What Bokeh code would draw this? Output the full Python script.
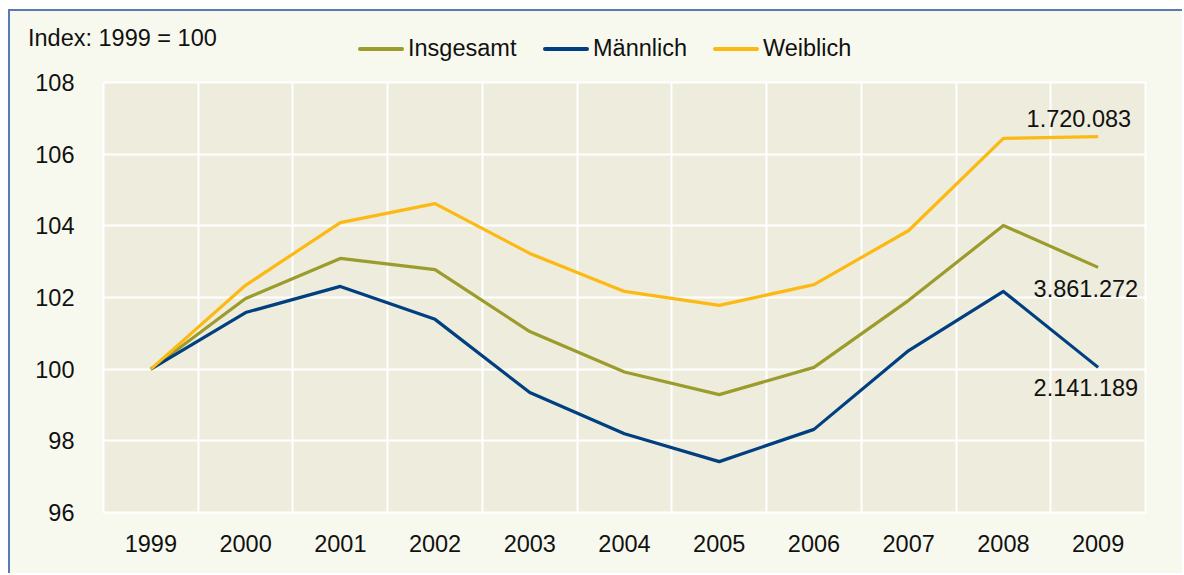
from bokeh.plotting import figure
from bokeh.layouts import column
from bokeh.models import (ColumnDataSource, Label, FixedTicker, Range1d, Div)
from bokeh.embed import file_html
from bokeh.resources import INLINE

years = [1999, 2000, 2001, 2002, 2003, 2004, 2005, 2006, 2007, 2008, 2009]
insgesamt = [100.0, 101.97, 103.09, 102.78, 101.05, 99.92, 99.29, 100.05, 101.92, 104.01, 102.84]
maennlich = [100.0, 101.58, 102.31, 101.39, 99.35, 98.20, 97.42, 98.32, 100.52, 102.17, 100.05]
weiblich = [100.0, 102.34, 104.09, 104.62, 103.23, 102.17, 101.78, 102.36, 103.87, 106.44, 106.49]
series_names = ["Insgesamt", "Männlich", "Weiblich"]
end_labels = ["3.861.272", "2.141.189", "1.720.083"]
y_ticks = [96, 98, 100, 102, 104, 106, 108]
subtitle = "Index: 1999 = 100"

FONT = "Liberation Sans"
FS = "23.5px"
colors = ["#9C9C2C", "#003F80", "#FDB913"]
CREAM = "#F8F9EE"

# ---- header (subtitle + legend) ----
legend_glyph_left = [343, 528, 698]
legend_text_left = [393, 578, 748]
parts = [f'<div style="position:relative;width:1162px;height:49px;background:{CREAM};'
         f'font-family:\'{FONT}\';font-size:{FS};color:#111111;line-height:27px;">',
         f'<span style="position:absolute;left:13px;top:9px;white-space:nowrap;">{subtitle}</span>']
for name, col, gl, tl in zip(series_names, colors, legend_glyph_left, legend_text_left):
    parts.append(f'<span style="position:absolute;left:{gl}px;top:31px;width:46px;height:4px;'
                 f'border-radius:2px;background:{col};"></span>')
    parts.append(f'<span style="position:absolute;left:{tl}px;top:19px;white-space:nowrap;">{name}</span>')
parts.append('</div>')
header = Div(text="".join(parts), width=1162, height=49, styles={"background-color": CREAM})

# ---- chart ----
src = ColumnDataSource(dict(x=years, ins=insgesamt, m=maennlich, w=weiblich))

p = figure(width=1172, height=503, output_backend="svg", toolbar_location=None,
           x_range=Range1d(1998.5, 2009.5), y_range=Range1d(96, 108),
           min_border_left=93, min_border_right=37, min_border_top=12, min_border_bottom=61,
           frame_width=1042, frame_height=430)
p.background_fill_color = "#EEECDC"
p.border_fill_color = CREAM
p.outline_line_color = "white"
p.outline_line_width = 2

p.xgrid.ticker = FixedTicker(ticks=[y - 0.5 for y in years] + [years[-1] + 0.5])
p.xgrid.grid_line_color = "white"
p.xgrid.grid_line_width = 2
p.ygrid.grid_line_color = "white"
p.ygrid.grid_line_width = 2

for ax in (p.xaxis[0], p.yaxis[0]):
    ax.axis_line_color = None
    ax.major_tick_line_color = None
    ax.minor_tick_line_color = None
    ax.major_label_text_font = FONT
    ax.major_label_text_font_size = FS
    ax.major_label_text_color = "#111111"
p.xaxis.ticker = FixedTicker(ticks=years)
p.xaxis.major_label_standoff = 16
p.yaxis.ticker = FixedTicker(ticks=y_ticks)
p.yaxis.major_label_standoff = 23

for key, col, name in zip(["ins", "m", "w"], colors, series_names):
    p.line("x", key, source=src, line_color=col, line_width=3.2, line_join="round", name=name)

for val, txt, dy, xo in [(insgesamt[-1], end_labels[0], -21, 40),
                         (maennlich[-1], end_labels[1], -20, 40),
                         (weiblich[-1], end_labels[2], 18, 33)]:
    p.add_layout(Label(x=years[-1], y=val, x_offset=xo, y_offset=dy, text=txt,
                       text_font=FONT, text_font_size=FS, text_color="#111111",
                       text_baseline="middle", text_align="right"))

layout = column(header, p, spacing=0,
                styles={"border-top": "2px solid #5A7AB5", "border-left": "2px solid #5A7AB5",
                        "margin-left": "8px", "margin-top": "9px", "background-color": CREAM})

open("out.html", "w").write(file_html(layout, INLINE))
